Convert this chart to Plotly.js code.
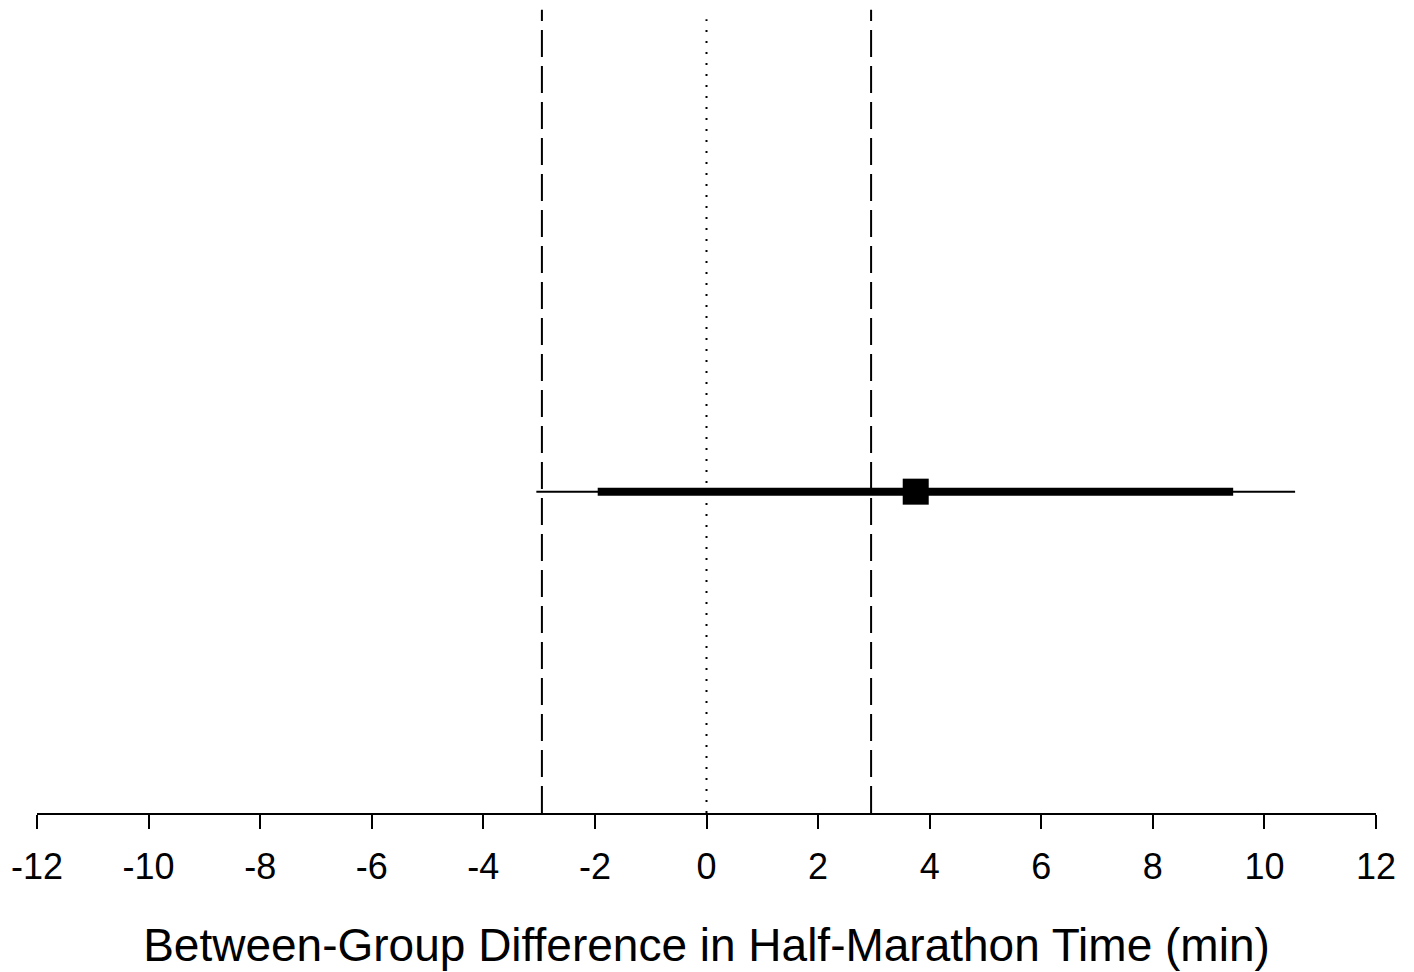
<!DOCTYPE html>
<html>
<head>
<meta charset="utf-8">
<script src="https://cdn.plot.ly/plotly-3.0.1.min.js"></script>
<style>html,body{margin:0;padding:0;background:#fff;}#chart{width:1414px;height:972px;}</style>
</head>
<body>
<div id="chart"></div>
<script>
// Data
const pointEstimate = 3.75;
const ci90 = [-1.95, 9.44];     // thick interval
const ci95 = [-3.05, 10.55];    // thin interval
const equivalenceBounds = [-2.95, 2.95];
const zeroLine = 0;
const rowY = 1;
const tickValues = [-12, -10, -8, -6, -4, -2, 0, 2, 4, 6, 8, 10, 12];
const tickLabels = ["-12", "-10", "-8", "-6", "-4", "-2", "0", "2", "4", "6", "8", "10", "12"];
const xTitle = "Between-Group Difference in Half-Marathon Time (min)";

const traces = [
  {x: [equivalenceBounds[0], equivalenceBounds[0]], y: [0, 2.50], mode: 'lines',
   line: {color: '#000', width: 2, dash: '27px,9px'}, hoverinfo: 'skip'},
  {x: [equivalenceBounds[1], equivalenceBounds[1]], y: [0, 2.50], mode: 'lines',
   line: {color: '#000', width: 2, dash: '27px,9px'}, hoverinfo: 'skip'},
  {x: [zeroLine, zeroLine], y: [0, 2.47], mode: 'lines',
   line: {color: '#000', width: 2, dash: '2px,9px'}, hoverinfo: 'skip'},
  {x: ci95, y: [rowY, rowY], mode: 'lines', line: {color: '#000', width: 2}},
  {x: ci90, y: [rowY, rowY], mode: 'lines', line: {color: '#000', width: 8}},
  {x: [pointEstimate], y: [rowY], mode: 'markers',
   marker: {symbol: 'square', size: 26, color: '#000', line: {width: 0}}}
];

const layout = {
  width: 1414, height: 972,
  margin: {l: 37, r: 38, t: 0, b: 159},
  showlegend: false,
  paper_bgcolor: '#fff', plot_bgcolor: '#fff',
  font: {family: 'Liberation Sans, Arial, sans-serif', color: '#000'},
  xaxis: {
    range: [-12, 12], showgrid: false, zeroline: false,
    showline: true, linecolor: '#000', linewidth: 2,
    ticks: 'outside', ticklen: 14, tickwidth: 2, tickcolor: '#000',
    tickvals: tickValues, ticktext: tickLabels,
    tickfont: {size: 36, family: 'Liberation Sans, Arial, sans-serif'},
    ticklabelstandoff: 7,
    title: {text: xTitle, font: {size: 46, family: 'Liberation Sans, Arial, sans-serif'}, standoff: 43},
    automargin: false, fixedrange: true
  },
  yaxis: {
    range: [0, 2.53], visible: false, showgrid: false, zeroline: false, fixedrange: true
  }
};

Plotly.newPlot('chart', traces, layout, {displayModeBar: false, staticPlot: true});
</script>
</body>
</html>
